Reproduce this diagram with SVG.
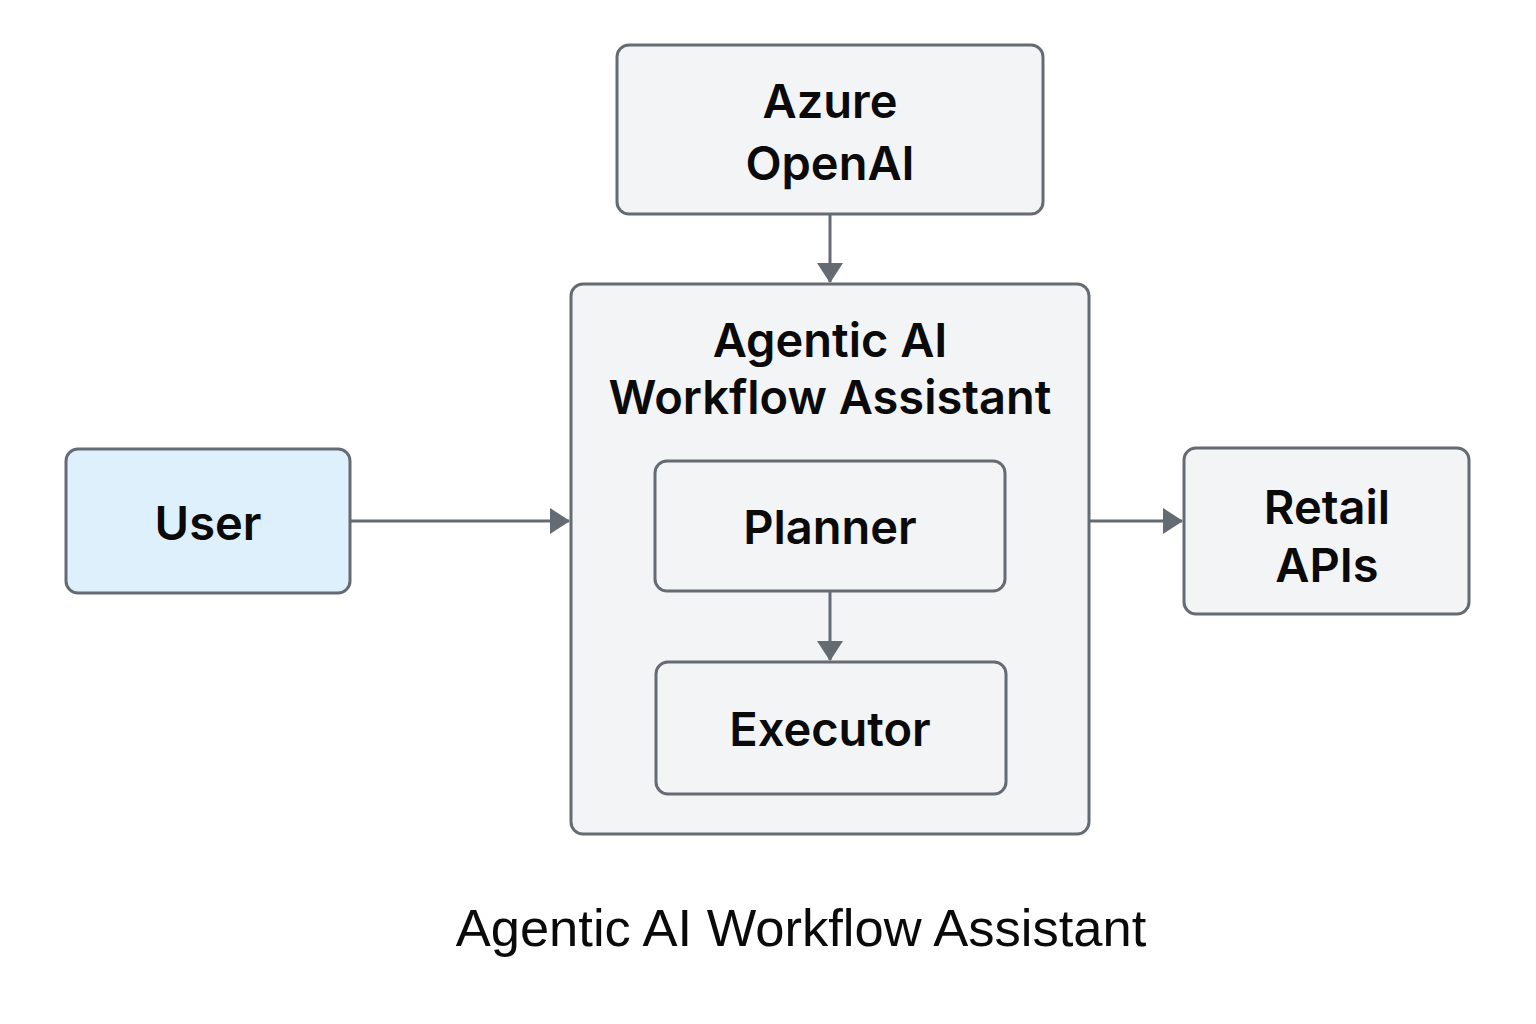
<svg xmlns="http://www.w3.org/2000/svg" width="1536" height="1024" viewBox="0 0 1536 1024">
  <defs>
    <style>
      .box { fill: #f3f4f6; stroke: #646b73; stroke-width: 3; }
      .user { fill: #dff0fd; }
      .lbl { font-family: Inter, "Liberation Sans", sans-serif; font-weight: 600; font-size: 47px; fill: #0a0a0a; text-anchor: middle; }
      .title { font-family: "Liberation Sans", Arial, sans-serif; font-size: 52.5px; fill: #0a0a0a; text-anchor: middle; }
      .conn { stroke: #646b73; stroke-width: 3; fill: none; }
    </style>
    <marker id="arr" viewBox="0 0 20 26" refX="19" refY="13" markerWidth="20" markerHeight="26" markerUnits="userSpaceOnUse" orient="auto">
      <path d="M0,0 L20,13 L0,26 Z" fill="#646b73"/>
    </marker>
  </defs>
  <rect width="1536" height="1024" fill="#ffffff"/>

  <g id="azure">
    <rect class="box" x="617" y="45" width="426" height="169" rx="12"/>
    <text class="lbl" x="830" y="118">Azure</text>
    <text class="lbl" x="830" y="180">OpenAI</text>
  </g>

  <g id="agentic">
    <rect class="box" x="571" y="284" width="518" height="550" rx="12"/>
    <text class="lbl" x="830" y="357">Agentic AI</text>
    <text class="lbl" x="830" y="414">Workflow Assistant</text>
  </g>

  <g id="planner">
    <rect class="box" x="655" y="461" width="350" height="130" rx="12"/>
    <text class="lbl" x="830" y="544">Planner</text>
  </g>

  <g id="executor">
    <rect class="box" x="656" y="662" width="350" height="132" rx="12"/>
    <text class="lbl" x="830" y="746">Executor</text>
  </g>

  <g id="user">
    <rect class="box user" x="66" y="449" width="284" height="144" rx="12"/>
    <text class="lbl" x="208" y="540">User</text>
  </g>

  <g id="retail">
    <rect class="box" x="1184" y="448" width="285" height="166" rx="12"/>
    <text class="lbl" x="1327" y="524">Retail</text>
    <text class="lbl" x="1327" y="582">APIs</text>
  </g>

  <g id="connectors">
    <line class="conn" x1="830" y1="214" x2="830" y2="282" marker-end="url(#arr)"/>
    <line class="conn" x1="830" y1="591" x2="830" y2="660" marker-end="url(#arr)"/>
    <line class="conn" x1="350" y1="521" x2="569" y2="521" marker-end="url(#arr)"/>
    <line class="conn" x1="1089" y1="521" x2="1182" y2="521" marker-end="url(#arr)"/>
  </g>

  <text class="title" x="801" y="946">Agentic AI Workflow Assistant</text>
</svg>
